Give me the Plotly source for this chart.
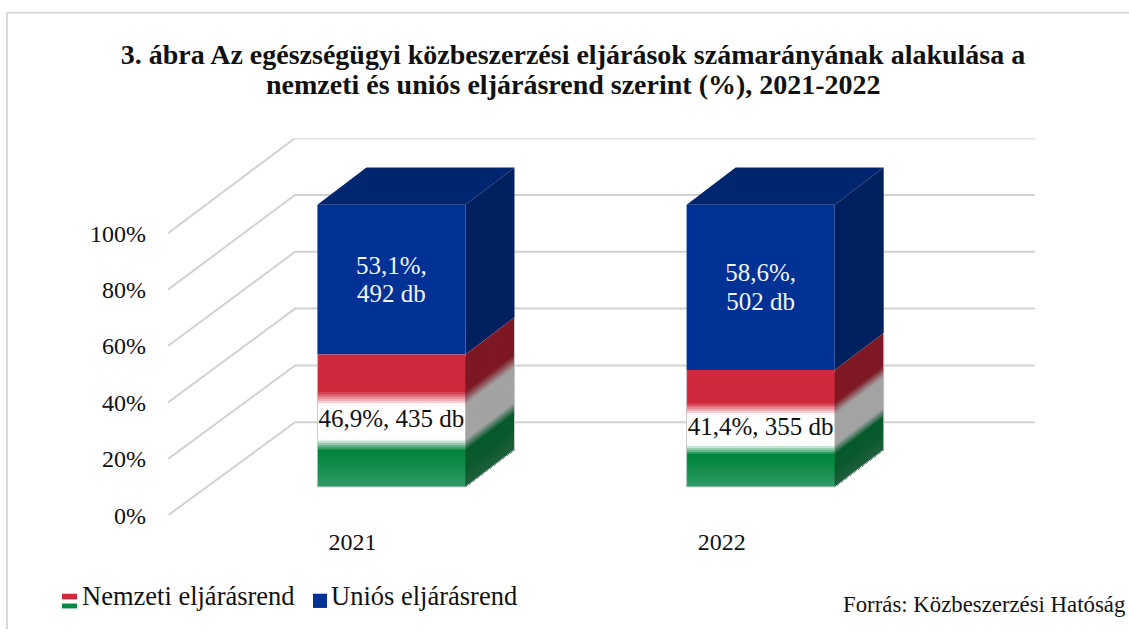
import plotly.graph_objects as go

W, H = 1129, 642
FONT = "Liberation Serif"

# --- data ---
years = ["2021", "2022"]
nemzeti_pct = [46.9, 41.4]
unios_pct = [53.1, 58.6]
nemzeti_db = [435, 355]
unios_db = [492, 502]
y_ticks = [0, 20, 40, 60, 80, 100]
y_tick_labels = ["0%", "20%", "40%", "60%", "80%", "100%"]
series_names = ["Nemzeti eljárásrend", "Uniós eljárásrend"]
title_line_1 = "3. ábra Az egészségügyi közbeszerzési eljárások számarányának alakulása a"
title_line_2 = "nemzeti és uniós eljárásrend szerint (%), 2021-2022"
source_text = "Forrás: Közbeszerzési Hatóság"

# --- pseudo-3D geometry, in axis units (x: category steps, y: percent) ---
PX_X, PX_Y = 369.0, 2.88          # pixels per axis unit
X0, Y0 = 353.0, 526.0             # pixel of category 0 / value 0
WALL_DX, WALL_DY = 127 / PX_X, 95 / PX_Y
BAR_DX, BAR_DY = 38.8 / PX_X, 29 / PX_Y
BAR_W = 148 / PX_X
SIDE_DX, SIDE_DY = 49 / PX_X, 38 / PX_Y
BACK_SCALE = 58 / 57.6
XMIN, XMAX = -0.5, (1035 - X0) / PX_X
YMAX = (Y0 - 141) / PX_Y

# vertical flag gradient on the Nemzeti segment (fraction from the top of the segment)
FRONT_STOPS = [(0, (206, 41, 60)), (.28, (206, 41, 60)), (.38, (255, 255, 255)), (.64, (255, 255, 255)),
               (.725, (0, 132, 61)), (.8, (10, 137, 70)), (1, (48, 155, 102))]
SIDE_STOPS = [(0, (126, 24, 36)), (.28, (126, 24, 36)), (.38, (163, 163, 163)), (.64, (163, 163, 163)),
              (.725, (5, 90, 42)), (.85, (10, 90, 45)), (1, (32, 95, 60))]
BLUE, BLUE_SIDE, BLUE_TOP = "#003296", "#002060", "#00266F"
GRID = "#D2D2D2"
INK = "#111111"


def col(stops, t):
    for (a, ca), (b, cb) in zip(stops, stops[1:]):
        if t <= b:
            f = 0 if b == a else (t - a) / (b - a)
            return "rgb(%d,%d,%d)" % tuple(round(p + (q - p) * f) for p, q in zip(ca, cb))
    return "rgb(%d,%d,%d)" % stops[-1][1]


fig = go.Figure()


def poly(xs, ys, color, **kw):
    fig.add_trace(go.Scatter(x=xs, y=ys, mode="lines", fill="toself", fillcolor=color,
                             line=dict(width=0, color=color), hoverinfo="skip", showlegend=False, **kw))


# back-wall grid: diagonal up the side wall, then along the back wall
for v in y_ticks:
    back = v * BACK_SCALE + WALL_DY
    fig.add_trace(go.Scatter(x=[XMIN, XMIN + WALL_DX, XMAX], y=[v, back, back], mode="lines",
                             line=dict(color=GRID, width=2), hoverinfo="skip", showlegend=False))

centers = [i + BAR_DX for i in range(len(years))]

for cx, n, u in zip(centers, nemzeti_pct, unios_pct):
    xl, xr = cx - BAR_W / 2, cx + BAR_W / 2
    y_b, y_m, y_t = BAR_DY, BAR_DY + n, BAR_DY + n + u
    # blue front, top and side
    poly([xl, xr, xr, xl, xl], [y_m, y_m, y_t, y_t, y_m], BLUE, name=series_names[1])
    poly([xl, xl + SIDE_DX, xr + SIDE_DX, xr, xl], [y_t, y_t + SIDE_DY, y_t + SIDE_DY, y_t, y_t], BLUE_TOP)
    poly([xr, xr + SIDE_DX, xr + SIDE_DX, xr, xr],
         [y_m, y_m + SIDE_DY, y_t + SIDE_DY, y_t, y_m], BLUE_SIDE)
    # Nemzeti front and side: gradient painted top-down, each band running to the segment's foot
    BANDS = 60
    for k in range(BANDS):
        t0, t1 = k / BANDS, (k + 1) / BANDS
        a = y_m - n * t0
        poly([xl, xr, xr, xl, xl], [a, a, y_b, y_b, a], col(FRONT_STOPS, (t0 + t1) / 2))
        poly([xr, xr + SIDE_DX, xr + SIDE_DX, xr, xr],
             [a, a + SIDE_DY, y_b + SIDE_DY, y_b, a], col(SIDE_STOPS, (t0 + t1) / 2))
    # thin pale outline of the lower block
    fig.add_trace(go.Scatter(x=[xl, xl, xr, xr + SIDE_DX, xr + SIDE_DX],
                             y=[y_m, y_b, y_b, y_b + SIDE_DY, y_m + SIDE_DY],
                             mode="lines", line=dict(color="#C4C8CC", width=1), hoverinfo="skip", showlegend=False))

# data labels
LBL = dict(mode="text", textposition="middle center", hoverinfo="skip", showlegend=False, cliponaxis=False)
fig.add_trace(go.Scatter(x=centers, y=[BAR_DY + n / 2 for n in nemzeti_pct],
                         text=[f"{str(p).replace('.', ',')}%, {d} db" for p, d in zip(nemzeti_pct, nemzeti_db)],
                         textfont=dict(family=FONT, size=25, color=INK), **LBL))
UP, DOWN = 12.5 / PX_Y, 16.5 / PX_Y    # the two lines of the blue label, around the segment's middle
mid_blue = [BAR_DY + n + u / 2 for n, u in zip(nemzeti_pct, unios_pct)]
fig.add_trace(go.Scatter(x=centers, y=[m + UP for m in mid_blue],
                         text=[f"{str(p).replace('.', ',')}%," for p in unios_pct],
                         textfont=dict(family=FONT, size=25, color="#F2F4FA"), **LBL))
fig.add_trace(go.Scatter(x=centers, y=[m - DOWN for m in mid_blue],
                         text=[f"{d} db" for d in unios_db],
                         textfont=dict(family=FONT, size=25, color="#F2F4FA"), **LBL))


def px(x):
    return x / W


def py(y):
    return 1 - y / H


shapes = [
    dict(type="line", xref="paper", yref="paper", x0=px(7), x1=px(1129), y0=py(13), y1=py(13),
         line=dict(color="#D9D9D9", width=2)),
    dict(type="line", xref="paper", yref="paper", x0=px(7), x1=px(7), y0=py(13), y1=py(642),
         line=dict(color="#D9D9D9", width=2)),
]
# legend swatches
for y0, y1, c in [(606, 612, "rgb(206,41,60)"), (612, 616, "#FFFFFF"), (616, 621, "rgb(10,137,70)")]:
    shapes.append(dict(type="rect", xref="paper", yref="paper", x0=px(62), x1=px(77), y0=py(y0), y1=py(y1),
                       fillcolor=c, line=dict(width=0)))
shapes.append(dict(type="rect", xref="paper", yref="paper", x0=px(313), x1=px(327), y0=py(606), y1=py(620.5),
                   fillcolor=BLUE, line=dict(width=0)))

annotations = [
    dict(text=f"<b>{title_line_2}</b>", x=573 / W, y=py(86), xref="paper", yref="paper", xanchor="center",
         yanchor="middle", showarrow=False, font=dict(family=FONT, size=28, color=INK)),
    dict(text=series_names[0], x=px(80), y=py(608), xref="paper", yref="paper", xanchor="left", yanchor="middle",
         showarrow=False, font=dict(family=FONT, size=26.5, color=INK)),
    dict(text=series_names[1], x=px(329), y=py(608), xref="paper", yref="paper", xanchor="left", yanchor="middle",
         showarrow=False, font=dict(family=FONT, size=26.5, color=INK)),
    dict(text=source_text, x=px(841), y=py(617), xref="paper", yref="paper", xanchor="left", yanchor="middle",
         showarrow=False, font=dict(family=FONT, size=22.8, color=INK)),
]

fig.update_layout(
    width=W, height=H, autosize=False, margin=dict(l=0, r=0, t=0, b=0),
    paper_bgcolor="white", plot_bgcolor="white", showlegend=False,
    title=dict(text=f"<b>{title_line_1}</b>", x=573 / W, xanchor="center", y=py(54), yanchor="middle",
               font=dict(family=FONT, size=28, color=INK)),
    xaxis=dict(domain=[168 / W, 1035 / W], range=[XMIN, XMAX], tickmode="array", tickvals=[0, 1], ticktext=years,
               showgrid=False, zeroline=False, showline=False, ticks="", ticklabelstandoff=10,
               tickfont=dict(family=FONT, size=24, color=INK)),
    yaxis=dict(domain=[py(526), py(141)], range=[0, YMAX], tickmode="array", tickvals=y_ticks, ticktext=y_tick_labels,
               showgrid=False, zeroline=False, showline=False, ticks="", ticklabelstandoff=21,
               tickfont=dict(family=FONT, size=24, color=INK)),
    shapes=shapes, annotations=annotations,
)
fig.write_html("out.html", config={"displayModeBar": False},
               post_script="document.body.style.margin='0';document.documentElement.style.overflow='hidden';")
